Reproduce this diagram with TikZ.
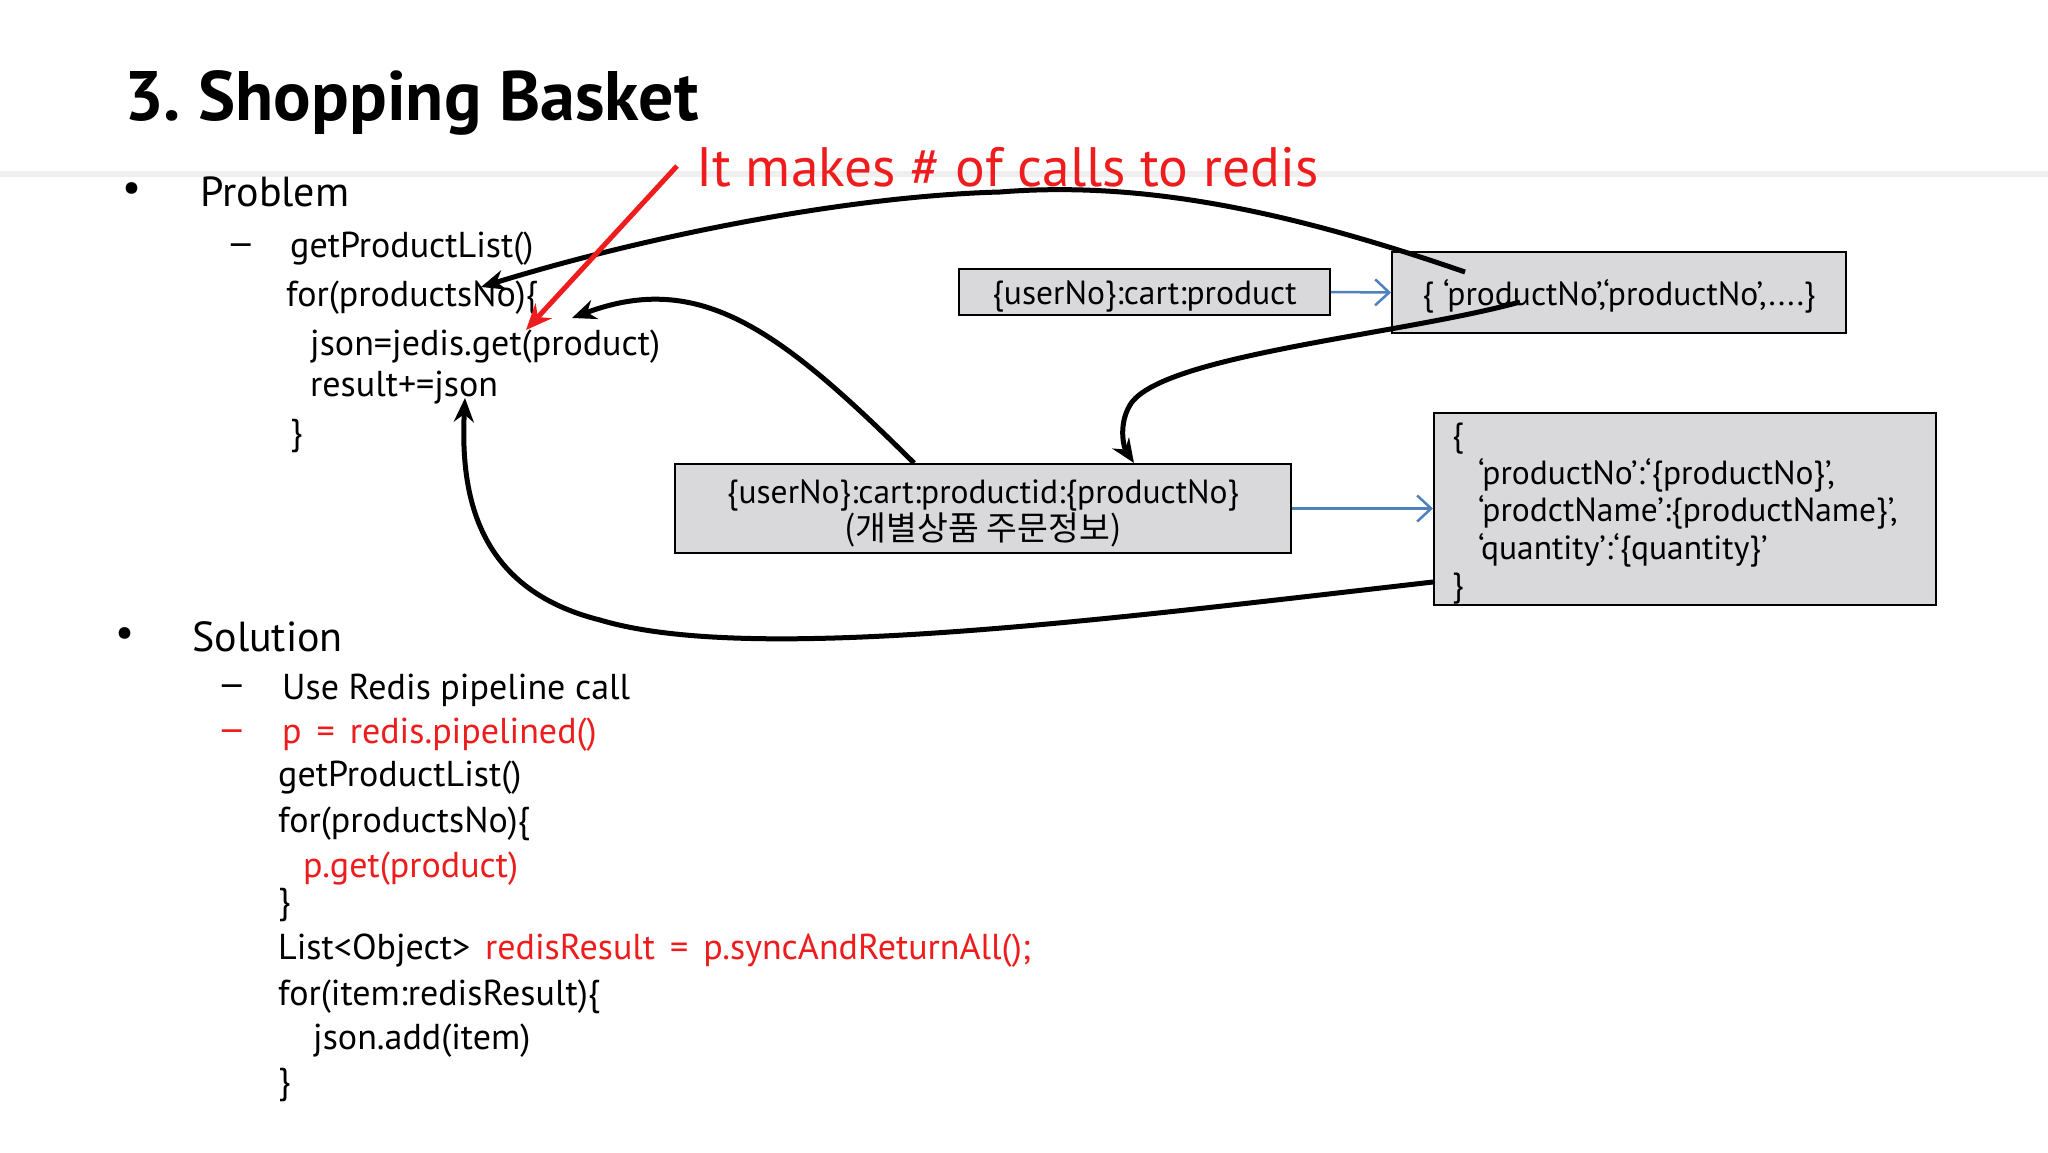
\documentclass[tikz,border=0pt]{standalone}
\usepackage{fontspec}
\setmainfont{PT Sans}
\newfontfamily\kr{Noto Sans CJK KR}
\usetikzlibrary{arrows.meta}
\definecolor{boxgray}{HTML}{D9D9DB}
\definecolor{arrowblue}{HTML}{4F81BD}
\definecolor{alertred}{HTML}{EE1C1C}
\definecolor{bandgray}{HTML}{EFEFEF}
\newcommand{\lowstrut}{\rule{0pt}{33.5pt}}
\begin{document}
\begin{tikzpicture}[x=1pt,y=-1pt,
  txt/.style={anchor=west, inner sep=0pt, yshift=-4pt, font=\fontsize{36}{43}\selectfont},
  big/.style={anchor=west, inner sep=0pt, font=\fontsize{42}{50}\selectfont},
  dashmark/.style={anchor=west, inner sep=0pt, yshift=-5pt, xscale=1.3, font=\fontsize{36}{43}\selectfont},
  box/.style={draw=black, line width=2pt, fill=boxgray, inner sep=0pt, font=\fontsize{33.5}{37.5}\selectfont},
  link/.style={line width=5pt, -{Stealth[length=24pt,width=20pt]}},
  blink/.style={draw=arrowblue, line width=2.5pt, -{Straight Barb[length=14pt,width=26pt]}},
  redlink/.style={draw=alertred, line width=5pt, -{Stealth[length=26pt,width=22pt]}}]
\useasboundingbox (0,0) rectangle (2048,1152);
\fill[white] (0,0) rectangle (2048,1152);
\draw[bandgray, line width=6pt] (0,174) -- (2048,174);

% title
\node[anchor=base west, inner sep=0pt, font=\fontsize{70}{84}\selectfont\bfseries] (title) at (124,120) {3.\hspace{-6pt} Shopping Basket};

% Problem
\node[big] (b1) at (122,192) {•};
\node[big] (problem) at (200,192) {Problem};
\node[dashmark] (d1) at (225,245) {–};
\node[txt] (p1) at (290,245) {getProductList()};
\node[txt] (p2) at (286,294) {for(productsNo)\{};
\node[txt] (p3) at (310,343) {json=jedis.get(product)};
\node[txt] (p4) at (310,384) {result+=json};
\node[txt] (p5) at (290,432) {\}};

% red remark
\node[anchor=west, inner sep=0pt, text=alertred, font=\fontsize{55.5}{66}\selectfont] (remark) at (696,167) {It makes \# of calls to redis};

% boxes
\node[box, minimum width=371, minimum height=46] (a) at (1144.5,292) {\lowstrut\{userNo\}:cart:product};
\node[box, minimum width=454, minimum height=81] (b) at (1619,292.5) {\lowstrut\{ ‘productNo’,‘productNo’,....\}};
\node[box, minimum width=616, minimum height=89, align=center] (c) at (983,508.5) {\lowstrut\{userNo\}:cart:productid:\{productNo\}\\{\kr (개별상품 주문정보)}};
\node[box, minimum width=502, minimum height=192, align=left, text width=466] (d) at (1685,509) {\lowstrut\{\\\hspace*{26pt}‘productNo’:‘\{productNo\}’,\\\hspace*{26pt}‘prodctName’:\{productName\}’,\\\hspace*{26pt}‘quantity’:‘\{quantity\}’\\\}};

% blue arrows
\draw[blink] (a.east) -- (b.west);
\draw[blink] (c.east) -- (c.east -| d.west);

% coordinates
\coordinate (s1) at (1465,272);
\coordinate (t1) at (481,287);
\coordinate (s2) at ([xshift=-69pt]c.north);
\coordinate (t2) at (572,318);
\coordinate (s3) at (1520,302);
\coordinate (t3) at ([xshift=151pt]c.north);
\coordinate (s4) at (d.west |- 0,582);
\coordinate (t4) at (465,398);
\coordinate (r1) at (677,166);
\coordinate (r2) at (526,330);

% black curves
\draw[link] (s1) .. controls (1300,215) and (1150,180) .. (1000,192) .. controls (850,196) and (650,235) .. (t1);
\draw[link] (s2) .. controls (780,330) and (700,270) .. (t2);
\draw[link] (s3) .. controls (1400,335) and (1160,355) .. (1130,405) .. controls (1118,425) and (1124,448) .. (t3);
\draw[link] (s4) .. controls (1100,620) and (750,665) .. (600,620) .. controls (480,590) and (460,500) .. (t4);

% red arrow
\draw[redlink] (r1) -- (r2);

% Solution
\node[big] (b2) at (115,637) {•};
\node[big] (solution) at (192,637) {Solution};
\node[dashmark] (d2) at (216,686) {–};
\node[txt] (q1) at (282,686) {Use Redis pipeline call};
\node[dashmark, text=alertred] (d3) at (216,731) {–};
\node[txt, text=alertred] (q2) at (282,731) {\spaceskip=15pt p = redis.pipelined()};
\node[txt] (q3) at (278,774) {getProductList()};
\node[txt] (q4) at (278,820) {for(productsNo)\{};
\node[txt, text=alertred] (q5) at (303,865) {p.get(product)};
\node[txt] (q6) at (278,901) {\}};
\node[txt] (q7) at (278,947) {\spaceskip=15pt List<Object> \textcolor{alertred}{redisResult = p.syncAndReturnAll();}};
\node[txt] (q8) at (278,993) {for(item:redisResult)\{};
\node[txt] (q9) at (313,1037) {json.add(item)};
\node[txt] (q10) at (278,1081) {\}};
\end{tikzpicture}
\end{document}
